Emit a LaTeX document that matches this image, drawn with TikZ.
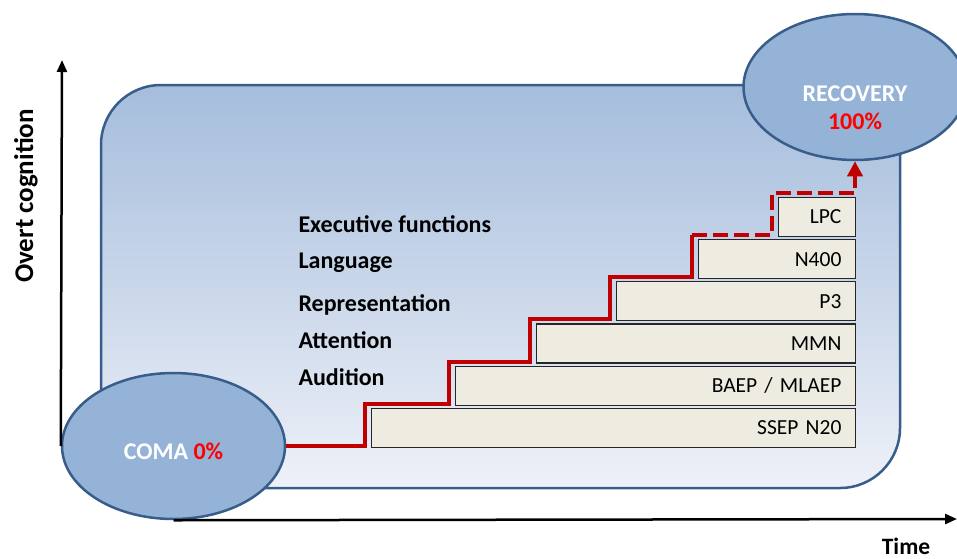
\documentclass[tikz,border=0pt]{standalone}
\usepackage{fontspec}
\setmainfont{Carlito}
\usetikzlibrary{arrows.meta,positioning,shapes.geometric}

\definecolor{ovalblue}{RGB}{149,179,215}
\definecolor{edgeblue}{RGB}{56,93,138}
\definecolor{paneltop}{RGB}{165,189,220}
\definecolor{panelbot}{RGB}{238,241,248}
\definecolor{stepfill}{RGB}{238,236,225}
\definecolor{pathred}{RGB}{192,0,0}

\begin{document}
\begin{tikzpicture}[
    x=1pt, y=-1pt,
    font=\fontsize{21.5}{24}\selectfont,
    panel/.style={draw=edgeblue, line width=2.5pt, rounded corners=60pt, top color=paneltop, bottom color=panelbot},
    oval/.style={ellipse, draw=edgeblue, line width=2.5pt, fill=ovalblue, minimum width=223pt, minimum height=146pt, inner sep=0pt, text=white, font=\fontsize{24}{28}\selectfont\bfseries},
    stepbox/.style={draw=black!85, line width=1.2pt, fill=stepfill, minimum height=39pt, inner xsep=14pt, inner ysep=0pt, text width=#1, align=right},
    level/.style={anchor=base west, font=\fontsize{24}{28}\selectfont\bfseries},
    axis/.style={line width=2.5pt, -{Triangle[length=12pt, width=10pt]}},
    stair/.style={pathred, line width=4pt}
]
\useasboundingbox (0,0) rectangle (957,558);

% background panel
\draw[panel] (101,85) rectangle (900,488);

\node[oval, text height=26pt, text depth=0pt] (coma) at (173.5,446) {COMA \textcolor{red}{0\%}};
\node[oval, align=center, text height=84pt, text depth=0pt] (recovery) at (855,87) {RECOVERY\\\textcolor{red}{100\%}};

% stacked potentials
\node[stepbox=456pt, anchor=south east] (ssep) at (856,448) {SSEP N20};
\node[stepbox=372pt, above=2pt of ssep.north east, anchor=south east] (baep) {BAEP / MLAEP};
\node[stepbox=291pt, above=2pt of baep.north east, anchor=south east] (mmn) {MMN};
\node[stepbox=211pt, above=2pt of mmn.north east, anchor=south east] (pthree) {P3};
\node[stepbox=129pt, above=2pt of pthree.north east, anchor=south east] (nfour) {N400};
\node[stepbox=49pt, above=2pt of nfour.north east, anchor=south east] (lpc) {LPC};

\node[level] (exec) at (295,232) {Executive functions};
\node[level] (lang) at (295,268) {Language};
\node[level] (repr) at (295,311) {Representation};
\node[level] (attn) at (295,348) {Attention};
\node[level] (audi) at (295,385) {Audition};

% axes
\coordinate (ytop) at (62,60);
\coordinate (xend) at (957,519);
\draw[axis] (coma.west) -- (ytop);
\draw[axis] (coma.south) -- (xend);
\node[rotate=90, anchor=base, font=\fontsize{27}{30}\selectfont\bfseries] (ylabel) at (33,196) {Overt cognition};
\node[anchor=base, font=\fontsize{23.5}{26}\selectfont\bfseries] (xlabel) at (906,554) {Time};

% recovery staircase
\draw[stair] (coma.east) -| ([xshift=-6pt,yshift=4pt]ssep.north west)
    -| ([xshift=-6pt,yshift=4pt]baep.north west)
    -| ([xshift=-6pt,yshift=4pt]mmn.north west)
    -| ([xshift=-6pt,yshift=4pt]pthree.north west)
    -| ([xshift=-6pt,yshift=4pt]nfour.north west);
\draw[stair, dash pattern=on 15pt off 6pt, -{Triangle[length=15pt, width=15pt]}] ([xshift=-6pt,yshift=4pt]nfour.north west)
    -| ([xshift=-6pt,yshift=4pt]lpc.north west) -| (recovery.south);
\end{tikzpicture}
\end{document}
